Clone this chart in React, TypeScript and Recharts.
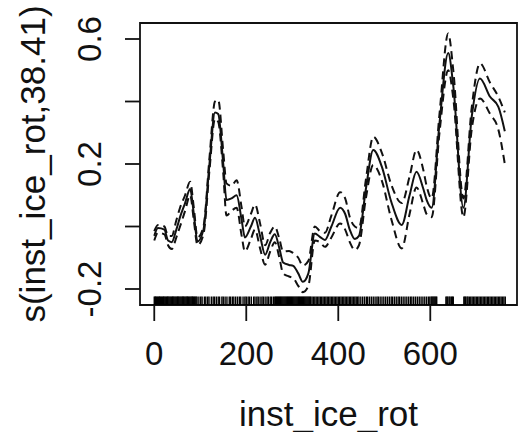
import React from "react";
import {
  ComposedChart,
  Line,
  Scatter,
  XAxis,
  YAxis,
  ReferenceArea,
} from "recharts";

// grid of inst_ice_rot values the smooth is read at
const xs = [
  0, 8, 22, 30, 38, 48, 56, 67, 78, 86, 94, 107, 120, 132, 139, 150, 157, 168,
  179, 190, 197, 210, 219, 230, 241, 252, 262, 272, 280, 293, 302, 313, 323,
  335, 349, 360, 371, 385, 404, 415, 425, 436, 445, 460, 476, 495, 515, 538,
  555, 570, 585, 592, 603, 620, 639, 650, 672, 690, 708, 730, 748, 762,
];

const fit = [
  -0.03, -0.005, -0.01, -0.045, -0.05, -0.01, 0.03, 0.075, 0.12, 0.04, -0.048,
  -0.01, 0.2, 0.365, 0.36, 0.2, 0.085, 0.09, 0.1, 0.02, -0.035, 0.0, 0.028,
  -0.03, -0.09, -0.05, -0.025, -0.07, -0.115, -0.123, -0.126, -0.15, -0.177,
  -0.15, -0.022, -0.033, -0.043, 0.0, 0.06, 0.04, -0.01, -0.04, -0.03, 0.12,
  0.245, 0.19, 0.08, 0.005, 0.1, 0.175, 0.12, 0.085, 0.06, 0.33, 0.555, 0.45,
  0.06, 0.35, 0.474, 0.415, 0.383, 0.305,
];

const upper = [
  -0.015, 0.005, 0.0, -0.03, -0.03, 0.02, 0.06, 0.1, 0.143, 0.06, -0.035, 0.0,
  0.22, 0.4, 0.405, 0.24, 0.138, 0.13, 0.148, 0.06, 0.0, 0.04, 0.07, 0.01,
  -0.06, -0.02, 0.0, -0.04, -0.08, -0.078, -0.085, -0.1, -0.125, -0.11, 0.0,
  -0.015, -0.02, 0.035, 0.11, 0.09, 0.03, 0.0, -0.005, 0.15, 0.287, 0.235,
  0.135, 0.075, 0.16, 0.245, 0.18, 0.13, 0.09, 0.36, 0.618, 0.5, 0.09, 0.38,
  0.522, 0.46, 0.415, 0.365,
];

const lower = [
  -0.045, -0.02, -0.025, -0.06, -0.072, -0.035, 0.0, 0.05, 0.1, 0.02, -0.06,
  -0.025, 0.18, 0.345, 0.335, 0.17, 0.035, 0.05, 0.06, -0.03, -0.08, -0.04,
  -0.01, -0.07, -0.122, -0.08, -0.05, -0.1, -0.15, -0.16, -0.165, -0.19, -0.21,
  -0.19, -0.045, -0.05, -0.065, -0.035, 0.01, -0.01, -0.05, -0.075, -0.06,
  0.09, 0.197, 0.145, 0.025, -0.07, 0.04, 0.125, 0.07, 0.04, 0.03, 0.3, 0.5,
  0.41, 0.03, 0.31, 0.41, 0.36, 0.31, 0.2,
];

// observed covariate values for the rug
const rugX = [
  0, 2, 3, 5, 7, 9, 11, 12, 14, 16, 18, 20, 21, 23, 25, 27, 29, 30, 32, 34, 36,
  38, 40, 41, 43, 45, 47, 49, 51, 52, 54, 56, 58, 60, 62, 63, 65, 67, 69, 71,
  72, 74, 76, 78, 80, 82, 83, 85, 87, 89, 91, 93, 97, 101, 104, 109, 112, 116,
  119, 124, 128, 131, 135, 139, 142, 147, 150, 154, 158, 163, 166, 170, 173,
  177, 181, 185, 188, 193, 197, 200, 204, 207, 211, 216, 219, 223, 226, 230,
  234, 237, 241, 245, 248, 252, 255, 259, 262, 264, 266, 268, 270, 272, 274,
  276, 278, 280, 282, 284, 286, 288, 290, 292, 294, 296, 298, 300, 302, 304,
  306, 308, 310, 312, 314, 316, 318, 320, 322, 324, 326, 328, 330, 332, 334,
  336, 338, 340, 343, 346, 349, 352, 355, 358, 361, 364, 367, 370, 373, 376,
  379, 382, 385, 388, 391, 394, 397, 400, 403, 406, 409, 412, 415, 418, 421,
  424, 427, 430, 433, 436, 439, 442, 445, 449, 453, 457, 461, 464, 468, 472,
  476, 480, 484, 487, 491, 495, 499, 503, 507, 511, 515, 518, 522, 526, 530,
  533, 537, 541, 545, 549, 553, 557, 560, 564, 568, 572, 576, 580, 584, 588,
  592, 596, 599, 602, 604, 606, 608, 610, 612, 614, 634, 636, 638, 641, 643,
  646, 648, 650, 673, 675, 677, 680, 682, 685, 688, 691, 694, 697, 700, 703,
  706, 709, 712, 715, 718, 721, 724, 727, 730, 733, 736, 739, 742, 745, 748,
  751, 754, 757, 760, 763,
];

const xTicks = [0, 200, 400, 600];
const yTicks = [-0.2, 0, 0.2, 0.4, 0.6];
const yLabelled = ["-0.2", "0.2", "0.6"];

const X_DOMAIN: [number, number] = [-31, 788.5];
const Y_DOMAIN: [number, number] = [-0.2512, 0.6512];

const FONT = "'Liberation Sans', Arial, Helvetica, sans-serif";
const INK = "#111";

const data = xs.map((x, i) => ({
  x,
  fit: fit[i],
  upper: upper[i],
  lower: lower[i],
}));
const rugData = rugX.map((x) => ({ x, y: Y_DOMAIN[0] }));

function fmt(v: number) {
  return v === 0 ? "0.0" : String(v);
}

function XTick(props: any) {
  const { x, y, payload } = props;
  return (
    <text x={x} y={y + 42} textAnchor="middle" fontSize={33} fontFamily={FONT} fill={INK}>
      {payload.value}
    </text>
  );
}

function YTick(props: any) {
  const { x, y, payload } = props;
  const label = fmt(payload.value);
  if (!yLabelled.includes(label)) return null;
  return (
    <text
      x={x}
      y={y}
      transform={`rotate(-90, ${x}, ${y})`}
      textAnchor="middle"
      fontSize={33}
      fontFamily={FONT}
      fill={INK}
    >
      {label}
    </text>
  );
}

function RugTick(props: any) {
  const { cx, cy } = props;
  return <line x1={cx} x2={cx} y1={cy} y2={cy - 8.5} stroke="#000" strokeWidth={1.4} />;
}

export default function App() {
  return (
    <div style={{ position: "absolute", left: 0, top: 0, background: "#fff" }}>
      <ComposedChart
        width={518}
        height={432}
        data={data}
        margin={{ top: 23, right: 1, bottom: 0, left: 0 }}
      >
        <XAxis
          dataKey="x"
          type="number"
          domain={X_DOMAIN}
          allowDataOverflow
          ticks={xTicks}
          height={127}
          tickSize={16}
          tickMargin={2}
          axisLine={false}
          tickLine={{ stroke: INK, strokeWidth: 1.8 }}
          tick={<XTick />}
          label={(p: any) => {
            const vb = p.viewBox;
            return (
              <text
                x={vb.x + vb.width / 2}
                y={vb.y + 121}
                textAnchor="middle"
                fontSize={35}
                fontFamily={FONT}
                fill={INK}
              >
                inst_ice_rot
              </text>
            );
          }}
        />
        <YAxis
          type="number"
          domain={Y_DOMAIN}
          allowDataOverflow
          ticks={yTicks}
          width={140}
          tickSize={15}
          tickMargin={24}
          axisLine={false}
          tickLine={{ stroke: INK, strokeWidth: 1.8 }}
          tick={<YTick />}
          label={(p: any) => {
            const vb = p.viewBox;
            const cx = 45;
            const cy = vb.y + vb.height / 2;
            return (
              <text
                x={cx}
                y={cy}
                transform={`rotate(-90, ${cx}, ${cy})`}
                textAnchor="middle"
                fontSize={35}
                fontFamily={FONT}
                fill={INK}
              >
                s(inst_ice_rot,38.41)
              </text>
            );
          }}
        />
        <ReferenceArea
          x1={X_DOMAIN[0]}
          x2={X_DOMAIN[1]}
          y1={Y_DOMAIN[0]}
          y2={Y_DOMAIN[1]}
          fill="none"
          stroke={INK}
          strokeWidth={1.8}
          fillOpacity={0}
        />
        <Scatter data={rugData} dataKey="y" shape={<RugTick />} isAnimationActive={false} />
        <Line
          dataKey="upper"
          type="monotone"
          stroke={INK}
          strokeWidth={2}
          strokeDasharray="8 5"
          dot={false}
          isAnimationActive={false}
        />
        <Line
          dataKey="lower"
          type="monotone"
          stroke={INK}
          strokeWidth={2}
          strokeDasharray="8 5"
          dot={false}
          isAnimationActive={false}
        />
        <Line
          dataKey="fit"
          type="monotone"
          stroke={INK}
          strokeWidth={2}
          dot={false}
          isAnimationActive={false}
        />
      </ComposedChart>
    </div>
  );
}
